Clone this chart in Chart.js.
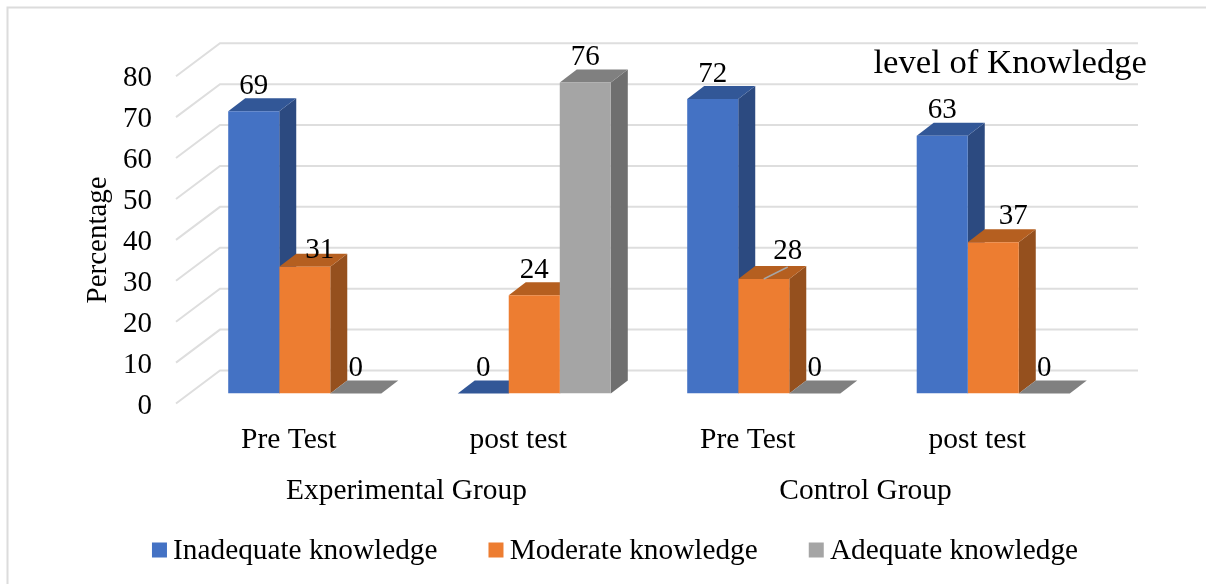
<!DOCTYPE html>
<html>
<head>
<meta charset="utf-8">
<style>html,body{margin:0;padding:0;background:#fff}canvas{display:block}</style>
<script src="https://cdn.jsdelivr.net/npm/chart.js@4/dist/chart.umd.js"></script>
</head>
<body>
<canvas id="c" width="1206" height="584"></canvas>
<script>
const categories = ["Pre Test", "post test", "Pre Test", "post test"];
const groups = ["Experimental Group", "Control Group"];
const inadequate = [69, 0, 72, 63];
const moderate = [31, 24, 28, 37];
const adequate = [0, 76, 0, 0];
const yTicks = [0, 10, 20, 30, 40, 50, 60, 70, 80];
const seriesNames = ["Inadequate knowledge", "Moderate knowledge", "Adequate knowledge"];
const frontColors = ["#4472c4", "#ed7d31", "#a5a5a5"];
const topColors = ["#325797", "#b55f20", "#808080"];
const sideColors = ["#2c4a80", "#95501e", "#6f6f6f"];
const titleText = "level of Knowledge";
const FONT = "'Liberation Serif'";
const DX = 17, DY = 13;
// hand offsets for value labels pushed aside in the reference: "dataset-category": [dx, dy]
const labelShift = {"1-0": [15, 9], "1-2": [24, -2.6], "1-3": [20, -1]};

const threeD = {
  id: 'threeD',
  afterUpdate(chart) {
    const l = chart.legend;
    const h = l.bottom - l.top;
    l.left += 61; l.right += 61;
    l.top = 554 - 68.4; l.bottom = l.top + h;
    l.adjustHitBoxes();
    const t = chart.titleBlock;
    t.right = 1147; t.top += 18.5; t.bottom += 18.5;
    const s = chart.scales.y;
    if (!s._wrapped) {
      s._wrapped = true;
      const orig = s.drawTitle;
      s.drawTitle = function () {
        const c = this.ctx; c.save(); c.translate(0, 10); orig.call(this); c.restore();
      };
    }
  },
  beforeDraw(chart) {
    const c = chart.ctx;
    c.save();
    c.strokeStyle = '#dcdcdc'; c.lineWidth = 2;
    c.beginPath();
    c.moveTo(7.5, 584); c.lineTo(7.5, 7.5); c.lineTo(1206, 7.5);
    c.stroke();
    c.restore();
  },
  beforeDatasetsDraw(chart) {
    const c = chart.ctx, ys = chart.scales.y, a = chart.chartArea;
    c.save();
    c.strokeStyle = '#dedede'; c.lineWidth = 2;
    yTicks.forEach(v => {
      const p = ys.getPixelForValue(v);
      c.beginPath();
      c.moveTo(a.left - 14, p + 10);
      c.lineTo(a.left + 30, p - 23);
      c.lineTo(a.right + 30, p - 23);
      c.stroke();
    });
    // sides and tops, left to right; the library's bar fronts are painted over them afterwards
    chart.data.datasets.forEach((ds, i) => {
      chart.getDatasetMeta(i).data.forEach(el => {
        const {x, y, base, width} = el.getProps(['x', 'y', 'base', 'width'], true);
        const l = x - width / 2, r = x + width / 2;
        c.fillStyle = sideColors[i];
        c.beginPath();
        c.moveTo(r, y); c.lineTo(r + DX, y - DY); c.lineTo(r + DX, base - DY); c.lineTo(r, base);
        c.closePath(); c.fill();
        c.fillStyle = topColors[i];
        c.beginPath();
        c.moveTo(l, y); c.lineTo(l + DX, y - DY); c.lineTo(r + DX, y - DY); c.lineTo(r, y);
        c.closePath(); c.fill();
      });
    });
    c.restore();
  },
  afterDatasetsDraw(chart) {
    const c = chart.ctx;
    c.save();
    // leader line of the moved "28" label
    const lead = chart.getDatasetMeta(1).data[2];
    c.strokeStyle = '#a6a6a6'; c.lineWidth = 1.5;
    c.beginPath();
    c.moveTo(lead.x, lead.y);
    c.lineTo(lead.x + 24, lead.y - 12);
    c.stroke();
    c.font = "29px " + FONT;
    c.fillStyle = '#000';
    c.textAlign = 'center';
    c.textBaseline = 'middle';
    chart.data.datasets.forEach((ds, i) => {
      chart.getDatasetMeta(i).data.forEach((el, j) => {
        const s = labelShift[i + '-' + j] || [0, 0];
        c.fillText(String(ds.data[j]), el.x + s[0], el.y - 25 + s[1]);
      });
    });
    c.restore();
  },
  afterDraw(chart) {
    const c = chart.ctx, l = chart.legend;
    const cy = l.top + 64.4;
    l.legendHitBoxes.forEach((b, i) => {
      c.fillStyle = frontColors[i];
      c.fillRect(b.left, cy - 7.5, 15, 15);
    });
  }
};

new Chart(document.getElementById('c'), {
  type: 'bar',
  data: {
    labels: categories,
    datasets: [
      {label: seriesNames[0], data: inadequate, backgroundColor: frontColors[0], xAxisID: 'x', yAxisID: 'y'},
      {label: seriesNames[1], data: moderate, backgroundColor: frontColors[1], xAxisID: 'x', yAxisID: 'y'},
      {label: seriesNames[2], data: adequate, backgroundColor: frontColors[2], xAxisID: 'x', yAxisID: 'y'}
    ]
  },
  plugins: [threeD],
  options: {
    responsive: false,
    animation: false,
    events: [],
    categoryPercentage: 0.667,
    barPercentage: 1,
    layout: {padding: {left: 0, right: 98, top: 24.6, bottom: -22.8}},
    plugins: {
      tooltip: {enabled: false},
      title: {
        display: true, text: titleText, align: 'end', color: '#000',
        font: {family: FONT, size: 34.7, weight: 'normal'}, padding: 0
      },
      legend: {
        display: true, position: 'bottom',
        labels: {
          color: '#000', boxWidth: 6.5, boxHeight: 15, padding: 51,
          font: {family: FONT, size: 29.3},
          generateLabels(chart) {
            return seriesNames.map((t, i) => ({
              text: t, fillStyle: 'rgba(0,0,0,0)', strokeStyle: 'rgba(0,0,0,0)',
              lineWidth: 0, datasetIndex: i, fontColor: '#000'
            }));
          }
        }
      }
    },
    scales: {
      x: {
        type: 'category', position: 'bottom', offset: true,
        grid: {display: false, drawTicks: false}, border: {display: false},
        ticks: {color: '#000', font: {family: FONT, size: 29.5}, padding: 29, labelOffset: -16, autoSkip: false, maxRotation: 0},
        afterFit(s) { s.height = 65; }
      },
      x2: {
        type: 'category', position: 'bottom', offset: true, labels: groups,
        grid: {display: false, drawTicks: false}, border: {display: false},
        ticks: {color: '#000', font: {family: FONT, size: 29.4}, padding: 15, labelOffset: -13, autoSkip: false, maxRotation: 0},
        afterFit(s) { s.height = 58; }
      },
      y: {
        position: 'left', min: 0, max: 80,
        grid: {display: false, drawTicks: false}, border: {display: false},
        ticks: {
          color: '#000', font: {family: FONT, size: 29}, padding: 38, labelOffset: 12.5, stepSize: 10,
          callback(v) { return yTicks.includes(v) ? String(v) : ''; }
        },
        title: {display: true, text: 'Percentage', color: '#000', font: {family: FONT, size: 29}, padding: {top: 80.6, bottom: 0}},
        afterFit(s) { s.width = 190; }
      }
    }
  }
});
</script>
</body>
</html>
